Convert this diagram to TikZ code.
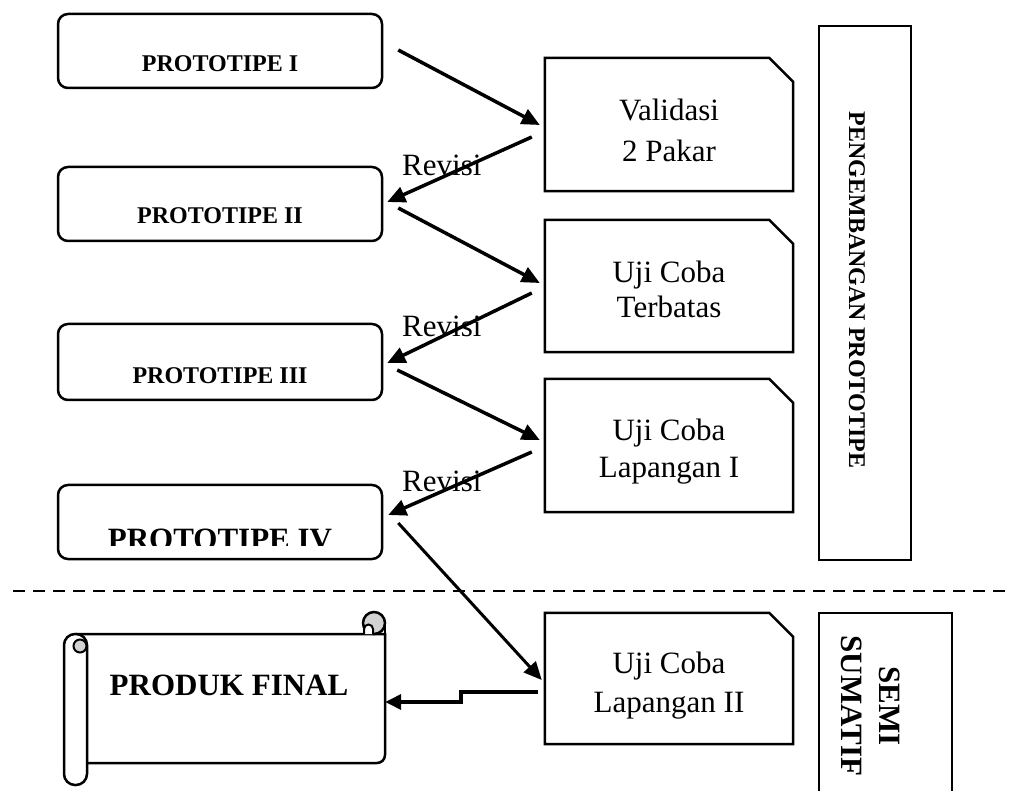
\documentclass[tikz,border=0pt]{standalone}
\usepackage{fontspec}
\setmainfont{Liberation Serif}
\usetikzlibrary{arrows.meta,calc}
\newcommand\snipbox[1]{\draw[line width=2.5pt, line join=miter] (#1.north west) -- ($(#1.north east)+(-24,0)$) -- ($(#1.north east)+(0,24)$) -- (#1.south east) -- (#1.south west) -- cycle;}
\begin{document}
\begin{tikzpicture}[x=1pt,y=-1pt,
  proto/.style={draw, line width=2.5pt, rounded corners=10pt, minimum width=324pt, minimum height=74pt, inner sep=0pt},
  stagebox/.style={draw=none, minimum width=248pt, minimum height=132pt, inner sep=0pt},
  ptext/.style={font=\fontsize{24}{28}\selectfont\bfseries, inner sep=0pt, anchor=base},
  stext/.style={font=\fontsize{31}{36}\selectfont, inner sep=0pt, anchor=base},
  revtext/.style={font=\fontsize{31}{36}\selectfont, inner sep=0pt, anchor=base west},
  conn/.style={line width=3.5pt, -{Triangle[length=18pt,width=16pt]}},
  sidebox/.style={line width=2.5pt}
]
\useasboundingbox (0,0) rectangle (1010,791);

% prototype boxes
\node[proto] (p1) at (220,51) {};
\node[ptext] (p1t) at (220,72) {PROTOTIPE I};
\node[proto] (p2) at (220,204) {};
\node[ptext] (p2t) at (220,224) {PROTOTIPE II};
\node[proto, minimum height=76pt] (p3) at (220,362) {};
\node[ptext] (p3t) at (220,384) {PROTOTIPE III};
\node[proto] (p4) at (220,522) {};
\begin{scope}
  \clip (90,520) rectangle (350,545);
  \node[font=\fontsize{31}{36}\selectfont\bfseries, inner sep=0pt, anchor=base] (p4t) at (220,550) {PROTOTIPE IV};
\end{scope}

% stage boxes
\node[stagebox, minimum height=133pt] (v) at (669,124.5) {};
\snipbox{v}
\node[stext] (v1) at (669,121) {Validasi};
\node[stext] (v2) at (669,162) {2 Pakar};

\node[stagebox] (t) at (669,286) {};
\snipbox{t}
\node[stext] (t1) at (669,283) {Uji Coba};
\node[stext] (t2) at (669,318) {Terbatas};

\node[stagebox, minimum height=133pt] (l1) at (669,445.5) {};
\snipbox{l1}
\node[stext] (l1a) at (669,441) {Uji Coba};
\node[stext] (l1b) at (669,478) {Lapangan I};

\node[stagebox, minimum height=131pt] (l2) at (669,678.5) {};
\snipbox{l2}
\node[stext] (l2a) at (669,673) {Uji Coba};
\node[stext] (l2b) at (669,712) {Lapangan II};

% side boxes
\node[draw, sidebox, minimum width=92pt, minimum height=534pt, inner sep=0pt] (pp) at (865,293) {};
\node[rotate=-90, font=\fontsize{24}{28}\selectfont\bfseries, inner sep=0pt] (ppt) at (857,290) {PENGEMBANGAN PROTOTIPE};

\node[draw=none, minimum width=133pt, minimum height=178pt, inner sep=0pt] (ss) at (885.5,702) {};
\draw[sidebox] (ss.south west) -- (ss.north west) -- (ss.north east) -- (ss.south east);
\node[rotate=-90, align=center, font=\fontsize{31}{38}\selectfont\bfseries, inner sep=0pt] (sst) at (871,706) {SEMI\\SUMATIF};

% dashed separator
\coordinate (dl) at (13,591);
\coordinate (dr) at (1010,591);
\draw[line width=2.5pt, dash pattern=on 12pt off 8pt] (dl) -- (dr);

% scroll (PRODUK FINAL)
\draw[line width=2.5pt, fill=white] (75,634) -- (385,634) -- (385,755) arc[start angle=0, end angle=90, radius=8] -- (75,763);
\draw[line width=2.5pt] (385,634) -- (385,623);
\draw[line width=2.5pt, fill=gray!35] (374,623) circle (11);
\draw[line width=2pt, fill=white] (364,634) -- (364,629) arc[start angle=180, end angle=360, radius=4.5] -- (373,634);
\draw[line width=2.5pt, fill=white, rounded corners=11pt] (64,634) rectangle (87,785);
\draw[line width=2pt, fill=gray!35] (80,646) circle (6.5);
\node[draw=none, minimum width=298pt, minimum height=129pt, inner sep=0pt] (pf) at (236,698.5) {};
\node[font=\fontsize{31}{36}\selectfont\bfseries, inner sep=0pt, anchor=base] (pft) at (229,695) {PRODUK FINAL};

% Revisi labels
\node[revtext] (r1) at (402,176) {Revisi};
\node[revtext] (r2) at (402,337) {Revisi};
\node[revtext] (r3) at (402,492) {Revisi};

% connectors
\draw[conn] ($(p1.east)+(15,-1)$) -- ($(v.west)+(-5,0.5)$);
\draw[conn] ($(v.west)+(-13,12.5)$) -- ($(p2.east)+(4,-2)$);
\draw[conn] ($(p2.east)+(15,4)$) -- ($(t.west)+(-5,-3)$);
\draw[conn] ($(t.west)+(-13,7)$) -- ($(p3.east)+(4,1)$);
\draw[conn] ($(p3.east)+(14,8)$) -- ($(l1.west)+(-5,-5.5)$);
\draw[conn] ($(l1.west)+(-13,6.5)$) -- ($(p4.east)+(5,-7)$);
\draw[conn, line width=3pt] ($(p4.east)+(15,1)$) -- ($(l2.west)+(-3,1.5)$);
\draw[conn, -{Triangle[length=16pt,width=15pt]}] ($(l2.west)+(-7,13.5)$) -- ($(l2.west)+(-84,13.5)$) -- ($(l2.west)+(-84,23.5)$) -- ($(pf.east)+(0,3.5)$);
\end{tikzpicture}
\end{document}
